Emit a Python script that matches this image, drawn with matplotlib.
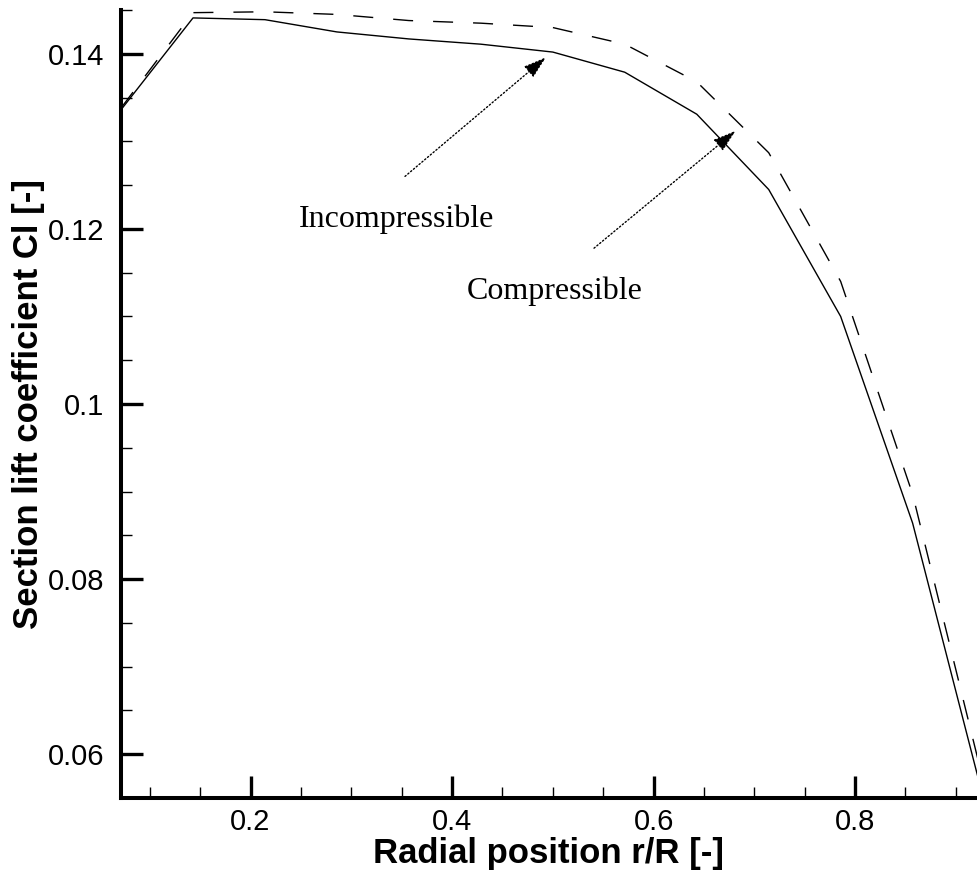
import matplotlib
matplotlib.use('Agg')
import matplotlib.pyplot as plt
from matplotlib.ticker import MultipleLocator, FixedLocator, FuncFormatter

# radial stations and section lift coefficient
r_R = [0.0714, 0.1429, 0.2143, 0.2857, 0.3571, 0.4286, 0.5,
       0.5714, 0.6429, 0.7143, 0.7857, 0.8571, 0.9286]
cl_incomp = [0.1336, 0.1441, 0.1439, 0.1425, 0.1417, 0.1411, 0.1402,
             0.1379, 0.1331, 0.1245, 0.1100, 0.0864, 0.0544]
cl_comp = [0.1338, 0.1447, 0.1448, 0.1445, 0.1438, 0.1435, 0.1430,
           0.1411, 0.1368, 0.1287, 0.1140, 0.0897, 0.0563]

x_ticks = [0.2, 0.4, 0.6, 0.8]
y_ticks = [0.06, 0.08, 0.1, 0.12, 0.14]

plt.rcParams['font.family'] = ['Liberation Sans', 'DejaVu Sans']

fig = plt.figure(figsize=(9.77, 8.73), dpi=100)
ax = fig.add_axes([0.1238, 0.0859, 0.8762, 0.9026])

ax.plot(r_R, cl_incomp, color='k', lw=1.0)
ax.plot(r_R, cl_comp, color='k', lw=1.0, dashes=(14.4, 14.4))

ax.set_xlim(0.0714, 0.921)
ax.set_ylim(0.055, 0.145)

for s in ('top', 'right'):
    ax.spines[s].set_visible(False)
for s in ('left', 'bottom'):
    ax.spines[s].set_linewidth(2.9)

ax.xaxis.set_major_locator(FixedLocator(x_ticks))
ax.yaxis.set_major_locator(FixedLocator(y_ticks))
ax.xaxis.set_minor_locator(MultipleLocator(0.05))
ax.yaxis.set_minor_locator(MultipleLocator(0.005))
fmt = FuncFormatter(lambda v, p: f'{v:g}')
ax.xaxis.set_major_formatter(fmt)
ax.yaxis.set_major_formatter(fmt)

ax.tick_params(which='major', direction='in', length=15.5, width=2.4,
               labelsize=21)
ax.tick_params(which='minor', direction='in', length=8, width=1.0)
ax.tick_params(axis='y', which='major', pad=12)
ax.tick_params(axis='x', which='major', pad=7)

ax.set_xlabel('Radial position r/R [-]', fontsize=25, fontweight='bold',
              labelpad=1)
ax.set_ylabel('Section lift coefficient Cl [-]', fontsize=25,
              fontweight='bold', labelpad=2)

serif = ['Liberation Serif', 'DejaVu Serif']
ax.text(0.3454, 0.1211, 'Incompressible', family=serif, fontsize=23,
        ha='center', va='center')
ax.text(0.5017, 0.1129, 'Compressible', family=serif, fontsize=23,
        ha='center', va='center')

arrow = dict(arrowstyle='-|>,head_length=0.7,head_width=0.22',
             linestyle=':', lw=1.0, color='k', mutation_scale=20,
             shrinkA=0, shrinkB=0)
ax.annotate('', xy=(0.4932, 0.1396), xytext=(0.3533, 0.1260),
            arrowprops=arrow)
ax.annotate('', xy=(0.6814, 0.1312), xytext=(0.5409, 0.1178),
            arrowprops=arrow)

fig.savefig('out.png', dpi=100)
plt.close(fig)
